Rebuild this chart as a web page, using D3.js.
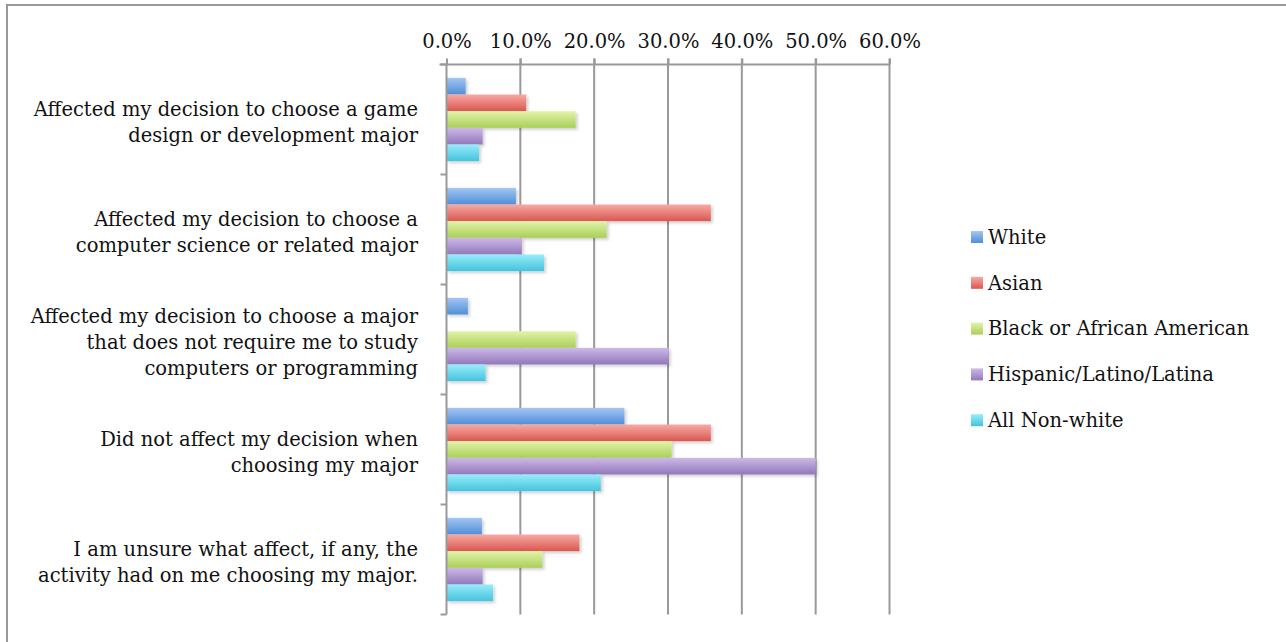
<!DOCTYPE html>
<html lang="en">
<head>
<meta charset="UTF-8">
<title>Effect of activity on choice of major</title>
<script src="https://d3js.org/d3.v7.min.js"></script>
<style>
  body { margin: 0; background: #fff; }
  text { font-family: "DejaVu Serif", serif; fill: #111; }
</style>
</head>
<body>
<svg id="chart" width="1286" height="642"></svg>
<script>
// categories (top to bottom), each split in lines as in the picture
var categories = [
  ["Affected my decision to choose a game", "design or development major"],
  ["Affected my decision to choose a", "computer science or related major"],
  ["Affected my decision to choose a major", "that does not require me to study", "computers or programming"],
  ["Did not affect my decision when", "choosing my major"],
  ["I am unsure what affect, if any, the", "activity had on me choosing my major."]
];
var seriesNames = ["White", "Asian", "Black or African American", "Hispanic/Latino/Latina", "All Non-white"];

// percentages per series, one value per category
var white    = [2.6, 9.4, 2.9, 24.1, 4.8];
var asian    = [10.8, 35.8, 0, 35.8, 18.0];
var black    = [17.5, 21.7, 17.5, 30.5, 13.0];
var hispanic = [4.9, 10.2, 30.1, 50.0, 4.9];
var nonWhite = [4.4, 13.2, 5.3, 20.9, 6.3];

var tickValues = [0, 10, 20, 30, 40, 50, 60];

var colors = [
  { top: "#a4c6f4", bottom: "#4f8ed6" },
  { top: "#f7aaa4", bottom: "#d9574f" },
  { top: "#e2f3aa", bottom: "#a9cf58" },
  { top: "#cdb9e8", bottom: "#9178bb" },
  { top: "#98ecfb", bottom: "#45c2dd" }
];

var allSeries = [white, asian, black, hispanic, nonWhite];

var svg = d3.select("#chart");
var fontSize = "19.5px";

// outer frame (right and bottom edge run off the picture)
svg.append("rect")
  .attr("x", 7).attr("y", 5)
  .attr("width", 1300).attr("height", 660)
  .attr("fill", "none")
  .attr("stroke", "#999")
  .attr("stroke-width", 2);

var plotLeft = 446.5, plotTop = 64.5, plotW = 443, plotH = 550;

var x = d3.scaleLinear().domain([0, 60]).range([plotLeft, plotLeft + plotW]);
var y = d3.scaleBand().domain(d3.range(categories.length)).range([plotTop, plotTop + plotH]);
var inner = d3.scaleBand().domain(d3.range(seriesNames.length))
  .range([0, y.bandwidth()]).paddingOuter(0.8);

var defs = svg.append("defs");
colors.forEach(function(c, i) {
  var g = defs.append("linearGradient").attr("id", "grad" + i)
    .attr("x1", 0).attr("y1", 0).attr("x2", 0).attr("y2", 1);
  g.append("stop").attr("offset", "0%").attr("stop-color", c.top);
  g.append("stop").attr("offset", "100%").attr("stop-color", c.bottom);
});
var shadow = defs.append("filter").attr("id", "shadow")
  .attr("x", "-5%").attr("y", "-20%").attr("width", "115%").attr("height", "160%");
shadow.append("feDropShadow").attr("dx", 2).attr("dy", 2).attr("stdDeviation", 1.5)
  .attr("flood-color", "#000").attr("flood-opacity", 0.18);

// gridlines
svg.append("g").selectAll("line").data(tickValues.slice(1)).enter()
  .append("line")
  .attr("x1", function(d) { return x(d); }).attr("x2", function(d) { return x(d); })
  .attr("y1", plotTop - 6).attr("y2", plotTop + plotH)
  .attr("stroke", "#999").attr("stroke-width", 2);

// top axis
var xAxis = d3.axisTop(x).tickValues(tickValues)
  .tickFormat(function(d) { return d.toFixed(1) + "%"; })
  .tickSizeInner(6).tickSizeOuter(0).tickPadding(11);
var gx = svg.append("g").attr("transform", "translate(0," + plotTop + ")").call(xAxis);
gx.select(".domain").attr("stroke", "#999").attr("stroke-width", 2)
  .attr("d", "M" + (plotLeft - 7) + ",0H" + (plotLeft + plotW));
gx.selectAll(".tick line").attr("stroke", "#999").attr("stroke-width", 2);
gx.selectAll(".tick text").style("font-family", "DejaVu Serif, serif")
  .style("font-size", fontSize).attr("fill", "#111");

// bars
var groups = svg.append("g").selectAll("g").data(allSeries).enter()
  .append("g")
  .attr("fill", function(d, i) { return "url(#grad" + i + ")"; })
  .attr("filter", "url(#shadow)");
groups.each(function(vals, si) {
  d3.select(this).selectAll("rect").data(vals).enter()
    .append("rect")
    .attr("x", x(0))
    .attr("y", function(d, ci) { return y(ci) + inner(si); })
    .attr("width", function(d) { return x(d) - x(0); })
    .attr("height", inner.bandwidth());
});

// left axis
var yAxis = d3.axisLeft(y).tickSize(0).tickFormat("");
var gy = svg.append("g").attr("transform", "translate(" + plotLeft + ",0)").call(yAxis);
gy.select(".domain").attr("stroke", "#999").attr("stroke-width", 2)
  .attr("d", "M0," + plotTop + "V" + (plotTop + plotH));
svg.append("g").selectAll("line").data(d3.range(categories.length + 1)).enter()
  .append("line")
  .attr("x1", plotLeft - 6).attr("x2", plotLeft)
  .attr("y1", function(d) { return plotTop + d * y.step(); })
  .attr("y2", function(d) { return plotTop + d * y.step(); })
  .attr("stroke", "#999").attr("stroke-width", 2);

// category labels
var lineH = 26;
categories.forEach(function(lines, ci) {
  var cy = y(ci) + y.bandwidth() / 2 + 2.5;
  var t = svg.append("text")
    .attr("text-anchor", "end")
    .style("font-size", fontSize);
  lines.forEach(function(l, li) {
    t.append("tspan")
      .attr("x", 418)
      .attr("y", cy + (li - (lines.length - 1) / 2) * lineH)
      .attr("dy", "0.35em")
      .text(l);
  });
});

// legend
var legend = svg.append("g").selectAll("g").data(seriesNames).enter()
  .append("g")
  .attr("transform", function(d, i) { return "translate(971," + (237 + i * 45.8) + ")"; });
legend.append("rect")
  .attr("x", 0).attr("y", -6).attr("width", 12).attr("height", 12)
  .attr("fill", function(d, i) { return "url(#grad" + i + ")"; });
legend.append("text")
  .attr("x", 17).attr("dy", "0.35em")
  .style("font-size", fontSize)
  .text(function(d) { return d; });
</script>
</body>
</html>
